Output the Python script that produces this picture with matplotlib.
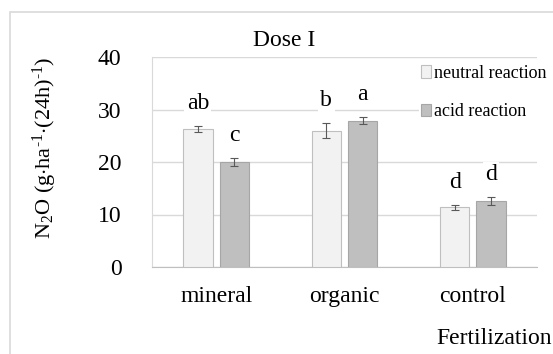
import matplotlib.pyplot as plt
import numpy as np
from matplotlib.patches import Rectangle

plt.rcParams['font.family'] = ['Liberation Serif', 'DejaVu Serif']
plt.rcParams['mathtext.fontset'] = 'custom'
plt.rcParams['mathtext.rm'] = 'Liberation Serif'
plt.rcParams['mathtext.it'] = 'Liberation Serif:italic'

# Dados
categorias = ["mineral", "organic", "control"]
neutra = [26.3, 26.0, 11.4]
neutra_err = [0.6, 1.5, 0.5]
acida = [20.0, 27.9, 12.6]
acida_err = [0.8, 0.7, 0.7]
letras_neutra = ["ab", "b", "d"]
letras_acida = ["c", "a", "d"]
series = ["neutral reaction", "acid reaction"]

fig = plt.figure(figsize=(5.53, 3.54), dpi=100)
# Moldura externa
fig.patches.append(Rectangle((9.5 / 553, -0.1), 1.2, 1.1 - 12.5 / 354,
                             transform=fig.transFigure, fill=False,
                             edgecolor="#d9d9d9", linewidth=1.2))
ax = fig.add_axes([152 / 553, 87 / 354, 385 / 553, 210 / 354])

x = np.arange(len(categorias)) + 0.5
larg = 0.23
desl = 0.142
b1 = ax.bar(x - desl, neutra, larg, yerr=neutra_err, color="#f2f2f2",
            edgecolor="#bfbfbf", linewidth=0.8, label=series[0],
            error_kw=dict(ecolor="#595959", elinewidth=0.8, capsize=3, capthick=0.8),
            zorder=3)
b2 = ax.bar(x + desl, acida, larg, yerr=acida_err, color="#bfbfbf",
            edgecolor="#a6a6a6", linewidth=0.8, label=series[1],
            error_kw=dict(ecolor="#595959", elinewidth=0.8, capsize=3, capthick=0.8),
            zorder=3)

# Letras de significancia
for xs, vals, errs, letras in [(x - desl, neutra, neutra_err, letras_neutra),
                               (x + desl, acida, acida_err, letras_acida)]:
    for xi, v, e, l in zip(xs, vals, errs, letras):
        ax.annotate(l, (xi, v + e), xytext=(0, 8.5), textcoords="offset points",
                    ha="center", va="bottom", fontsize=17, zorder=4,
                    bbox=dict(boxstyle="square,pad=0.1", fc="white", ec="none"))

ax.set_xlim(0, 3)
ax.set_ylim(0, 40)
ax.set_yticks([0, 10, 20, 30, 40])
ax.set_xticks(x)
ax.set_xticklabels(categorias)
ax.tick_params(axis="both", length=0, labelsize=17)
ax.tick_params(axis="y", pad=22)
ax.tick_params(axis="x", pad=14)
ax.grid(axis="y", color="#d9d9d9", linewidth=1, zorder=0)
ax.set_axisbelow(True)
for s in ["top", "right"]:
    ax.spines[s].set_visible(False)
ax.spines["left"].set_color("#d9d9d9")
ax.spines["bottom"].set_color("#bfbfbf")

fig.text(284 / 553, 1 - 41 / 354, "Dose I", ha="center", va="center", fontsize=17)
fig.text(45 / 553, 1 - 148 / 354,
         r"N$_2$O (g$\cdot$ha$^{\text{-1}}$$\cdot$(24h)$^{\text{-1}}$)",
         rotation=90, ha="center", va="center", fontsize=16)
fig.text(494 / 553, 1 - 338 / 354, "Fertilization", ha="center", va="center",
         fontsize=17)

leg = ax.legend(loc="upper left", bbox_to_anchor=(419 / 553, 1 - 63 / 354),
                bbox_transform=fig.transFigure, frameon=True, fontsize=13,
                handlelength=0.55, handleheight=0.7, handletextpad=0.2,
                labelspacing=1.2, borderpad=0.1, borderaxespad=0)
leg.get_frame().set_edgecolor("none")
leg.get_frame().set_facecolor("white")
leg.get_frame().set_alpha(1)

plt.savefig("out.png", dpi=100)
plt.close()
